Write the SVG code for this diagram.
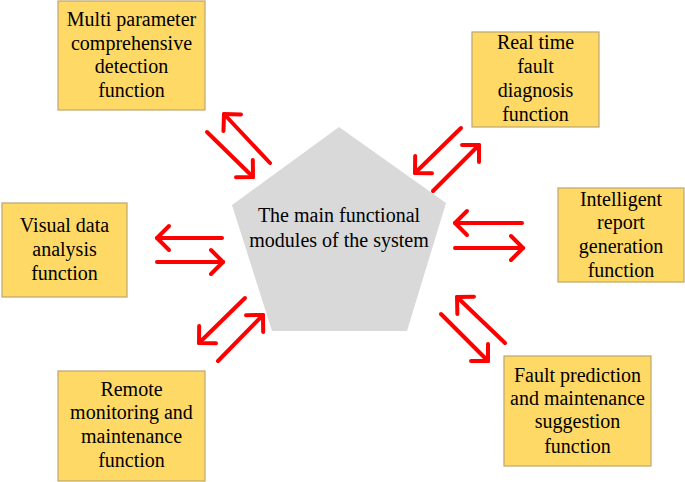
<svg xmlns="http://www.w3.org/2000/svg" width="685" height="482" viewBox="0 0 685 482">
<style>
.box{fill:#FFD966;stroke:#BFA56E;stroke-width:1.2}
.t{font-family:"Liberation Serif","Times New Roman",serif;font-size:20px;fill:#000;text-anchor:middle}
.arr{fill:none;stroke:#FF0000;stroke-width:4;stroke-linecap:round;marker-end:url(#head)}
</style>
<defs>
<marker id="head" markerUnits="userSpaceOnUse" viewBox="-16 -16 20 32" refX="0" refY="0" markerWidth="20" markerHeight="32" orient="auto">
<path d="M-12,-12 L0,0 L-12,12" fill="none" stroke="#FF0000" stroke-width="4" stroke-linecap="round" stroke-linejoin="round"/>
</marker>
</defs>
<rect width="685" height="482" fill="#fff"/>
<g id="center">
<polygon points="339,127 446,203 407,331 272,331 232,205" fill="#D9D9D9"/>
<text class="t" x="339" y="222">The main functional</text>
<text class="t" x="339" y="247">modules of the system</text>
</g>
<g id="n1">
<rect class="box" x="58" y="1" width="147" height="109"/>
<text class="t" x="131.5" y="26">Multi parameter</text>
<text class="t" x="131.5" y="50">comprehensive</text>
<text class="t" x="131.5" y="73">detection</text>
<text class="t" x="131.5" y="97">function</text>
</g>
<g id="n2">
<rect class="box" x="472" y="32" width="127" height="95"/>
<text class="t" x="535.5" y="49">Real time</text>
<text class="t" x="535.5" y="73">fault</text>
<text class="t" x="535.5" y="97">diagnosis</text>
<text class="t" x="535.5" y="121">function</text>
</g>
<g id="n3">
<rect class="box" x="2" y="203" width="125" height="94"/>
<text class="t" x="64.5" y="232">Visual data</text>
<text class="t" x="64.5" y="256">analysis</text>
<text class="t" x="64.5" y="280">function</text>
</g>
<g id="n4">
<rect class="box" x="558" y="188" width="126" height="94"/>
<text class="t" x="621" y="206">Intelligent</text>
<text class="t" x="621" y="229">report</text>
<text class="t" x="621" y="253">generation</text>
<text class="t" x="621" y="277">function</text>
</g>
<g id="n5">
<rect class="box" x="58" y="371" width="147" height="110"/>
<text class="t" x="131.5" y="396">Remote</text>
<text class="t" x="131.5" y="419">monitoring and</text>
<text class="t" x="131.5" y="443">maintenance</text>
<text class="t" x="131.5" y="467">function</text>
</g>
<g id="n6">
<rect class="box" x="504" y="356" width="147" height="110"/>
<text class="t" x="577.5" y="382">Fault prediction</text>
<text class="t" x="577.5" y="405">and maintenance</text>
<text class="t" x="577.5" y="428">suggestion</text>
<text class="t" x="577.5" y="453">function</text>
</g>
<g id="connectors">
<path class="arr" d="M270,163 L224,114"/>
<path class="arr" d="M207,132 L253,177"/>
<path class="arr" d="M461,128 L415,173"/>
<path class="arr" d="M433,191 L479,145"/>
<path class="arr" d="M222,238 L157,238"/>
<path class="arr" d="M157,262 L223,262"/>
<path class="arr" d="M522,223 L455,223"/>
<path class="arr" d="M455,248 L523,248"/>
<path class="arr" d="M245,298 L199,343"/>
<path class="arr" d="M218,361 L263,315"/>
<path class="arr" d="M505,343 L457,297"/>
<path class="arr" d="M441,314 L488,361"/>
</g>
</svg>
